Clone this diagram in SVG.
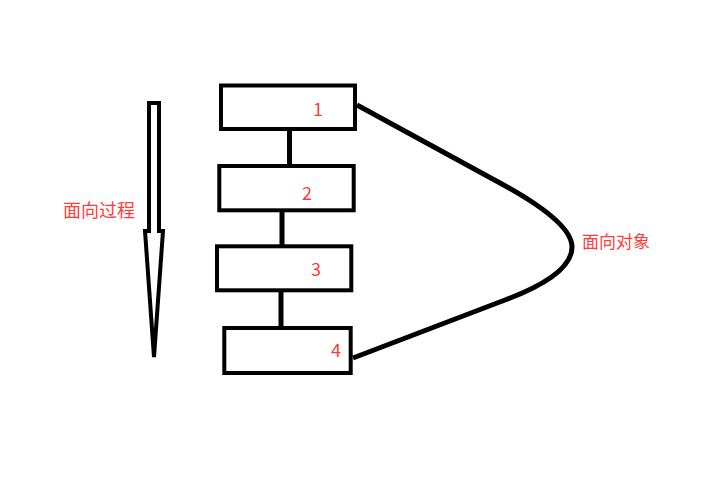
<svg xmlns="http://www.w3.org/2000/svg" width="707" height="489" viewBox="0 0 707 489">
<style>
.box{fill:#fff;stroke:#000;stroke-width:4}
.ln{fill:none;stroke:#000;stroke-width:5}
.lbl{font-family:"Noto Sans CJK SC","Microsoft YaHei",sans-serif;fill:#ff3c3c}
.num{font-size:18px;text-anchor:middle}
</style>
<rect width="707" height="489" fill="#fff"/>
<g id="arrow">
<polygon points="149,103 159,103 159,231 163,231 154,357 145,231 149,231" fill="#fff" stroke="#000" stroke-width="4" stroke-linejoin="miter"/>
<text class="lbl" x="63" y="217" font-size="18">面向过程</text>
</g>
<g id="connectors">
<line class="ln" x1="289.5" y1="130" x2="289.5" y2="165"/>
<line class="ln" x1="282" y1="211" x2="282" y2="246"/>
<line class="ln" x1="281" y1="291" x2="281" y2="328"/>
<path class="ln" d="M357,105 L500,183 Q572,222 572,247 Q572,275 505,300 L353,358" stroke-width="4.5"/>
</g>
<g id="node1"><rect class="box" x="221" y="85.5" width="134" height="43.5"/><text class="lbl num" x="318" y="116">1</text></g>
<g id="node2"><rect class="box" x="219.3" y="166" width="134.4" height="44.3"/><text class="lbl num" x="307" y="200">2</text></g>
<g id="node3"><rect class="box" x="217" y="246.3" width="134.3" height="44"/><text class="lbl num" x="316" y="276">3</text></g>
<g id="node4"><rect class="box" x="224.3" y="328" width="126.4" height="45"/><text class="lbl num" x="336" y="357">4</text></g>
<g id="oop"><text class="lbl" x="582" y="248" font-size="17">面向对象</text></g>
</svg>
